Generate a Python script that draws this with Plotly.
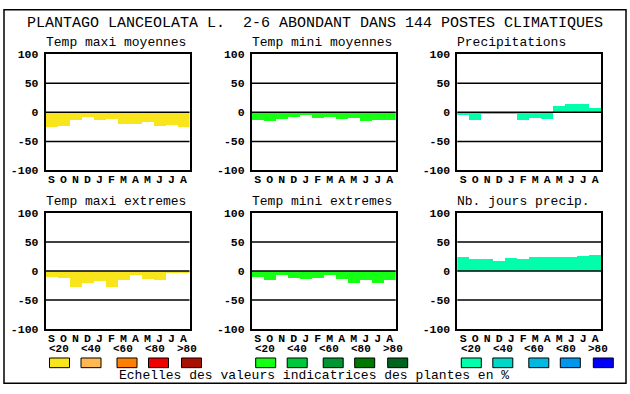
import plotly.graph_objects as go

W, H = 630, 394

title_text = "PLANTAGO LANCEOLATA L.\u00a0 2-6 ABONDANT DANS 144 POSTES CLIMATIQUES"
caption_text = "Echelles des valeurs indicatrices des plantes en %"

months = ["S", "O", "N", "D", "J", "F", "M", "A", "M", "J", "J", "A"]

panel_titles = ["Temp maxi moyennes", "Temp mini moyennes", "Precipitations",
                "Temp maxi extremes", "Temp mini extremes", "Nb. jours precip."]

tmax_moy = [-25, -24, -14, -8, -14, -12, -20, -20, -17, -24, -22, -25]
tmin_moy = [-14, -16, -12, -8, -5, -10, -8, -12, -11, -16, -14, -14]
precip = [-5, -14, -4, -2, -2, -14, -11, -12, 11, 13, 14, 7]
tmax_ext = [-10, -12, -27, -20, -17, -27, -15, -7, -14, -16, -4, -4]
tmin_ext = [-10, -16, -7, -12, -14, -12, -7, -14, -20, -15, -20, -15]
nb_jours = [24, 21, 21, 17, 22, 20, 24, 24, 24, 24, 26, 28]

scale_labels = ["<20", "<40", "<60", "<80", ">80"]
scale_warm = ["#F9E51B", "#FFB950", "#FF8000", "#EE0000", "#AA1000"]
scale_green = ["#14FF14", "#00C83C", "#009632", "#007800", "#00641E"]
scale_blue = ["#00FFAA", "#00D7C8", "#00B9E1", "#0096EB", "#0000FA"]

y_ticks = [-100, -50, 0, 50, 100]
y_ticktext = ["-100", "-50", "0", "50", "100"]

panel_values = [tmax_moy, tmin_moy, precip, tmax_ext, tmin_ext, nb_jours]
column_scales = [scale_warm, scale_green, scale_blue]

# layout geometry (pixels)
col_left = [45.5, 251.7, 457.3]
plot_w = 144
row_top = [50, 214]
plot_h = 120
label_off = [3.5, 35.5, 67, 99, 131]
swatch_off = [4, 35.5, 71.5, 103, 136]

MONO = "Liberation Mono"


def px(x):
    return x / W


def py(y):
    return 1 - y / H


fig = go.Figure()
layout = dict(
    width=W, height=H,
    margin=dict(l=0, r=0, t=0, b=0),
    paper_bgcolor="white", plot_bgcolor="white",
    showlegend=False, bargap=0,
)
shapes = []
annotations = []

for i, vals in enumerate(panel_values):
    r, c = divmod(i, 3)
    n = i + 1
    xa = "x" if n == 1 else f"x{n}"
    ya = "y" if n == 1 else f"y{n}"
    fig.add_trace(go.Bar(
        x=list(range(12)), y=vals, width=1.0,
        marker=dict(color=column_scales[c][0], line=dict(width=0)),
        xaxis=xa, yaxis=ya, hoverinfo="skip",
    ))
    L = col_left[c]
    T = row_top[r]
    layout[f"xaxis{n}"] = dict(
        domain=[px(L), px(L + plot_w)], anchor=ya,
        range=[-0.5, 11.5], tickvals=list(range(12)), ticktext=months,
        showgrid=False, zeroline=False, showline=True, mirror=True,
        linecolor="black", linewidth=1.5, ticks="", fixedrange=True,
        tickfont=dict(family=MONO, size=11.5, color="black", weight="bold"),
        ticklabelstandoff=-3,
    )
    layout[f"yaxis{n}"] = dict(
        domain=[py(T + plot_h), py(T)], anchor=xa,
        range=[-100, 100], tickvals=y_ticks, ticktext=y_ticktext,
        showgrid=False, zeroline=False, showline=True, mirror=True,
        linecolor="black", linewidth=1.5, ticks="", fixedrange=True,
        tickfont=dict(family=MONO, size=11.5, color="black", weight="bold"),
        ticklabelstandoff=3,
    )
    for v in [50, 0, -50]:
        shapes.append(dict(type="line", xref=f"{xa} domain", yref=ya,
                           x0=0, x1=1, y0=v, y1=v, layer="above",
                           line=dict(color="black", width=1.5)))
    annotations.append(dict(
        text=panel_titles[i], xref="paper", yref="paper",
        x=px(L - 2), y=py(T - 12), xanchor="left", yanchor="middle",
        showarrow=False, font=dict(family=MONO, size=13, color="black"),
    ))

# legend scales under each column
for c in range(3):
    L = col_left[c]
    for k, lab in enumerate(scale_labels):
        annotations.append(dict(
            text=lab, xref="paper", yref="paper",
            x=px(L + label_off[k] + 10), y=py(355), xanchor="center", yanchor="middle",
            showarrow=False, borderpad=0,
            font=dict(family=MONO, size=11, color="black", weight="bold"),
        ))
        x0 = L + swatch_off[k]
        shapes.append(dict(type="rect", xref="paper", yref="paper",
                           x0=px(x0), x1=px(x0 + 20), y0=py(374), y1=py(364),
                           fillcolor=column_scales[c][k],
                           line=dict(color="black", width=1)))

annotations.append(dict(
    text=title_text, xref="paper", yref="paper", x=0.5, y=py(18),
    xanchor="center", yanchor="middle", showarrow=False,
    font=dict(family=MONO, size=15, color="black"),
))
annotations.append(dict(
    text=caption_text, xref="paper", yref="paper", x=px(313.5), y=py(382),
    xanchor="center", yanchor="middle", showarrow=False, borderpad=0,
    font=dict(family=MONO, size=13, color="black"),
))

# outer frame
shapes.append(dict(type="rect", xref="paper", yref="paper",
                   x0=px(4), x1=px(626), y0=py(390), y1=py(4),
                   line=dict(color="black", width=1.5)))

layout["shapes"] = shapes
layout["annotations"] = annotations
fig.update_layout(**layout)

fig.write_html(
    "out.html",
    config={"displayModeBar": False},
    post_script="document.body.style.margin='0';document.body.style.overflow='hidden';",
)
